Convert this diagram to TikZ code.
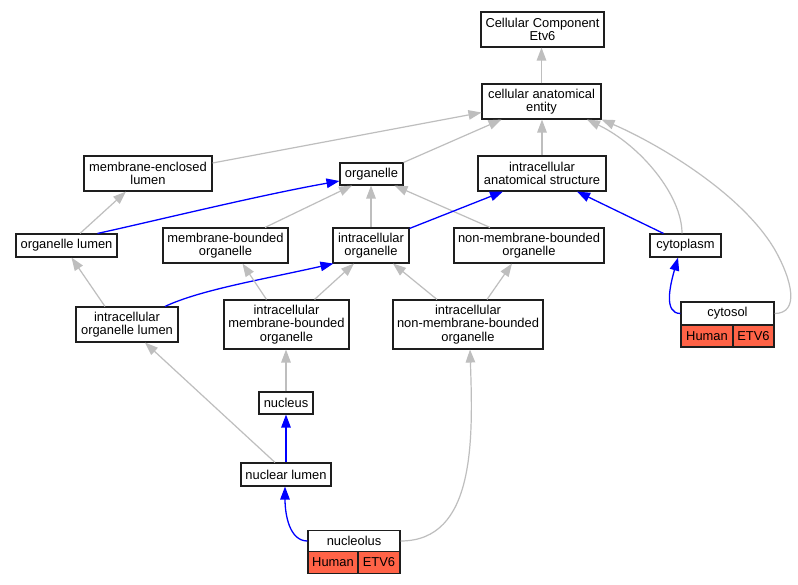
\documentclass[tikz,border=0pt]{standalone}
\usepackage{fontspec}
\setmainfont{Liberation Sans}
\usetikzlibrary{arrows.meta}
\definecolor{edgegray}{RGB}{190,190,190}
\definecolor{tomatofill}{RGB}{255,99,71}
\definecolor{boxline}{RGB}{30,30,30}
\begin{document}
\begin{tikzpicture}[x=1pt,y=-1pt,
  box/.style={draw=boxline,line width=1.1pt,fill=white,inner sep=0pt,align=center,
    font=\fontsize{12.9}{13.6}\selectfont},
  cell/.style={box,fill=tomatofill},
  gedge/.style={draw=edgegray,line width=1.2pt,-{Triangle[length=13pt,width=9.5pt]}},
  bedge/.style={draw=blue,line width=1.3pt,-{Triangle[length=13pt,width=9.5pt]}}]
\fill[white] (0,0) rectangle (798,584);
\useasboundingbox (0,0) rectangle (798,584);
% nodes
\node[box,minimum width=123pt,minimum height=35pt] (cce) at (542.5,29.5) {Cellular Component\\Etv6};
\node[box,minimum width=119pt,minimum height=35pt] (cae) at (541.5,101.5) {cellular anatomical\\entity};
\node[box,minimum width=128pt,minimum height=35pt] (mel) at (148,173.5) {membrane-enclosed\\lumen};
\node[box,minimum width=63pt,minimum height=22pt] (org) at (371.5,174) {organelle};
\node[box,minimum width=128pt,minimum height=35pt] (ias) at (542,173.5) {intracellular\\anatomical structure};
\node[box,minimum width=101pt,minimum height=23pt] (olum) at (66.5,245.5) {organelle lumen};
\node[box,minimum width=125pt,minimum height=35pt] (mbo) at (225.5,245.5) {membrane-bounded\\organelle};
\node[box,minimum width=76pt,minimum height=35pt] (io) at (371,245.5) {intracellular\\organelle};
\node[box,minimum width=150pt,minimum height=35pt] (nmbo) at (529,245.5) {non-membrane-bounded\\organelle};
\node[box,minimum width=71pt,minimum height=23pt] (cyto) at (685.5,245.5) {cytoplasm};
\node[box,minimum width=102pt,minimum height=35pt] (iol) at (127,324.5) {intracellular\\organelle lumen};
\node[box,minimum width=125pt,minimum height=49pt] (imbo) at (286.5,324.5) {intracellular\\membrane-bounded\\organelle};
\node[box,minimum width=150pt,minimum height=49pt] (inmbo) at (468,324.5) {intracellular\\non-membrane-bounded\\organelle};
\node[box,minimum width=54pt,minimum height=22pt] (nuc) at (286,403) {nucleus};
\node[box,minimum width=90pt,minimum height=23pt] (nl) at (286,474.5) {nuclear lumen};
% cytosol table
\node[box,minimum width=93pt,minimum height=23pt] (cytosol) at (727.5,313.5) {cytosol};
\node[cell,minimum width=52pt,minimum height=22pt] (cytosolh) at (707,336) {Human};
\node[cell,minimum width=41pt,minimum height=22pt] (cytosole) at (753.5,336) {ETV6};
% nucleolus table
\node[box,minimum width=92pt,minimum height=21.5pt] (nucl) at (354,541) {nucleolus};
\node[cell,minimum width=50pt,minimum height=21.5pt] (nuclh) at (333,562.5) {Human};
\node[cell,minimum width=42pt,minimum height=21.5pt] (nucle) at (379,562.5) {ETV6};
% edges
\draw[gedge] (cae.north) -- (cae.north |- cce.south);
\draw[gedge] ([yshift=10.5pt]mel.east) -- ([yshift=-11pt]cae.west);
\draw[gedge] (org.north east) -- ([xshift=-40pt]cae.south);
\draw[gedge] (ias.north) -- (ias.north |- cae.south);
\draw[gedge] ([xshift=-3.5pt]cyto.north) .. controls (682,195) and (640,145) .. ([xshift=45.5pt]cae.south);
\draw[gedge] (cytosol.east) .. controls (800,313.5) and (792,280) .. (775,250) .. controls (740,190) and (650,140) .. (cae.south east);
\draw[bedge] ([xshift=31pt]olum.north) .. controls (150,222) and (260,195) .. ([yshift=-7pt]org.west);
\draw[gedge] ([xshift=39.5pt]mbo.north) -- ([xshift=-19.5pt]org.south);
\draw[gedge] (io.north) -- (io.north |- org.south);
\draw[gedge] ([xshift=-39pt]nmbo.north) -- ([xshift=23pt]org.south);
\draw[gedge] ([xshift=13.5pt]olum.north) -- ([xshift=-22pt]mel.south);
\draw[bedge] ([yshift=-1pt]io.north east) -- ([xshift=-39pt]ias.south);
\draw[bedge] ([xshift=-22pt]cyto.north) -- ([xshift=35pt]ias.south);
\draw[bedge] (cytosol.west) .. controls +(-17,0) and +(-8,28) .. ([xshift=-7.5pt]cyto.south);
\draw[gedge] ([xshift=-22pt]iol.north) -- ([xshift=5pt]olum.south);
\draw[bedge] ([xshift=38pt]iol.north) .. controls (200,290) and (260,280) .. ([xshift=1pt]io.south west);
\draw[gedge] ([xshift=-20pt]imbo.north) -- ([xshift=17pt]mbo.south);
\draw[gedge] ([xshift=28pt]imbo.north) -- ([xshift=-17pt]io.south);
\draw[gedge] ([xshift=-31pt]inmbo.north) -- ([xshift=22pt]io.south);
\draw[gedge] ([xshift=19pt]inmbo.north) -- ([xshift=-17pt]nmbo.south);
\draw[gedge] (nuc.north) -- (nuc.north |- imbo.south);
\draw[gedge] ([xshift=-11pt]nl.north) -- ([xshift=18pt]iol.south);
\draw[bedge] (nl.north) -- (nuc.south);
\draw[bedge] (nucl.west) .. controls +(-18,0) and +(0,28) .. ([xshift=-1pt]nl.south);
\draw[gedge] (nucl.east) .. controls +(75,0) and +(3,90) .. ([xshift=2pt]inmbo.south);
\end{tikzpicture}
\end{document}
